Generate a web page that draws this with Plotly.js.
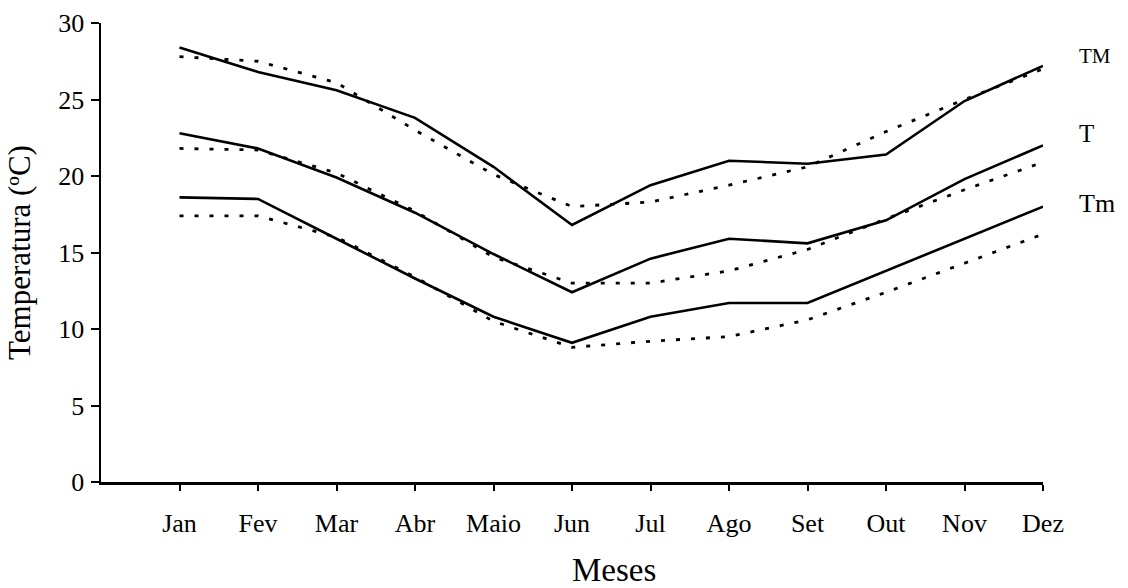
<!DOCTYPE html>
<html>
<head>
<meta charset="utf-8">
<script src="https://cdn.plot.ly/plotly-3.0.1.min.js"></script>
<style>html,body{margin:0;padding:0;background:#fff;}#chart{width:1128px;height:588px;}</style>
</head>
<body>
<div id="chart"></div>
<script>
const months = ["Jan","Fev","Mar","Abr","Maio","Jun","Jul","Ago","Set","Out","Nov","Dez"];
const monthIndex = [1,2,3,4,5,6,7,8,9,10,11,12];
// Observed (solid) and estimated (dotted) temperatures
const tmaxObs = [28.4, 26.8, 25.6, 23.8, 20.6, 16.8, 19.4, 21.0, 20.8, 21.4, 24.9, 27.2];
const tmaxEst = [27.8, 27.5, 26.1, 23.0, 20.1, 18.0, 18.3, 19.4, 20.6, 22.9, 25.0, 27.0];
const tmedObs = [22.8, 21.8, 19.9, 17.6, 14.9, 12.4, 14.6, 15.9, 15.6, 17.1, 19.8, 22.0];
const tmedEst = [21.8, 21.7, 20.2, 17.7, 14.7, 13.0, 13.0, 13.8, 15.2, 17.2, 19.1, 20.9];
const tminObs = [18.6, 18.5, 15.9, 13.3, 10.8, 9.1, 10.8, 11.7, 11.7, 13.8, 15.9, 18.0];
const tminEst = [17.4, 17.4, 16.0, 13.4, 10.5, 8.8, 9.2, 9.5, 10.6, 12.4, 14.3, 16.2];
const seriesLabels = ["TM", "T", "Tm"];
const xTitle = "Meses";
const yTitle = "Temperatura (ºC)";

const solid = {color:"#000", width:2.6};
const dotted = {color:"#000", width:2.8, dash:"4px,11px"};
function tr(y, line){ return {x: monthIndex, y: y, type:"scatter", mode:"lines", line: line, hoverinfo:"skip", showlegend:false}; }

const data = [
  tr(tmaxObs, solid), tr(tmaxEst, dotted),
  tr(tmedObs, solid), tr(tmedEst, dotted),
  tr(tminObs, solid), tr(tminEst, dotted)
];

const fam = "Liberation Serif, Times New Roman, serif";
function f(size){ return {family: fam, size: size, color:"#000"}; }
const L = 101, R = 1043, T = 23, B = 482;
function px(xp){ return (xp - L) / (R - L); }
function py(yp){ return (B - yp) / (B - T); }

const layout = {
  width:1128, height:588,
  margin:{l:L, r:1128-R, t:T, b:588-B},
  paper_bgcolor:"#fff", plot_bgcolor:"#fff",
  font: f(26),
  xaxis:{
    range:[0,12], tickvals: monthIndex, ticktext: months,
    showgrid:false, zeroline:false, showline:true, linecolor:"#000", linewidth:2.5,
    ticks:"outside", ticklen:6, tickwidth:2, tickcolor:"#000",
    ticklabelstandoff:10,
    tickfont: f(26)
  },
  yaxis:{
    range:[0,30], tickvals:[0,5,10,15,20,25,30],
    showgrid:false, zeroline:false, showline:true, linecolor:"#000", linewidth:2.5,
    ticks:"outside", ticklen:8, tickwidth:2, tickcolor:"#000",
    ticklabelstandoff:1,
    tickfont: f(26),
    title:{text:yTitle, font: f(31), standoff:19}
  },
  annotations:[
    {xref:"paper", yref:"paper", x:px(1077), y:py(56), text:seriesLabels[0], showarrow:false, xanchor:"left", yanchor:"middle", font:f(21)},
    {xref:"paper", yref:"paper", x:px(1077), y:py(133), text:seriesLabels[1], showarrow:false, xanchor:"left", yanchor:"middle", font:f(25)},
    {xref:"paper", yref:"paper", x:px(1077), y:py(203), text:seriesLabels[2], showarrow:false, xanchor:"left", yanchor:"middle", font:f(26)},
    {xref:"paper", yref:"paper", x:px(614), y:py(570), text:xTitle, showarrow:false, xanchor:"center", yanchor:"middle", font:f(33)}
  ]
};

Plotly.newPlot("chart", data, layout, {staticPlot:true, displayModeBar:false});
</script>
</body>
</html>
